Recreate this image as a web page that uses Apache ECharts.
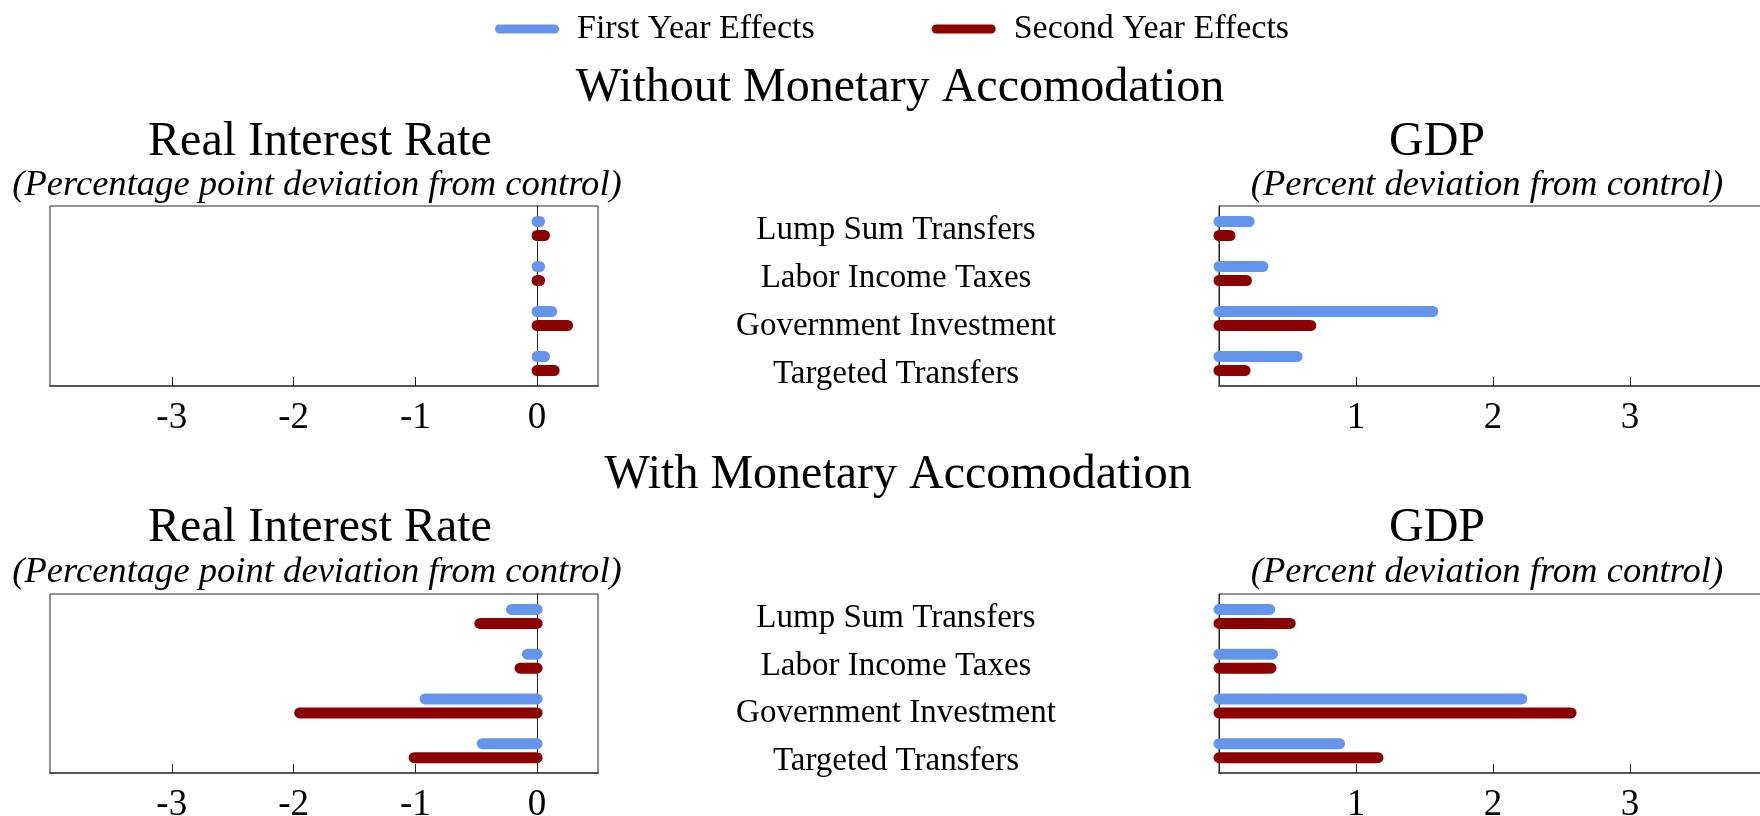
<!DOCTYPE html>
<html>
<head>
<meta charset="utf-8">
<script src="https://cdn.jsdelivr.net/npm/echarts@6/dist/echarts.min.js"></script>
<style>
  html, body { margin: 0; padding: 0; background: #fff; }
  #main { width: 1760px; height: 816px; }
</style>
</head>
<body>
<div id="main"></div>
<script>
// categories, top to bottom
var categories = ['Lump Sum Transfers', 'Labor Income Taxes', 'Government Investment', 'Targeted Transfers'];
var seriesNames = ['First Year Effects', 'Second Year Effects'];

// without monetary accomodation
var rirWithoutFirst = [0.02, 0.02, 0.12, 0.06];
var rirWithoutSecond = [0.06, 0.02, 0.25, 0.14];
var gdpWithoutFirst = [0.22, 0.32, 1.56, 0.57];
var gdpWithoutSecond = [0.08, 0.20, 0.67, 0.19];

// with monetary accomodation
var rirWithFirst = [-0.21, -0.08, -0.92, -0.45];
var rirWithSecond = [-0.47, -0.14, -1.95, -1.01];
var gdpWithFirst = [0.37, 0.39, 2.21, 0.88];
var gdpWithSecond = [0.52, 0.38, 2.57, 1.16];

var rirTicks = ['-3', '-2', '-1', '0'];
var gdpTicks = ['1', '2', '3'];

var FONT = "'Liberation Serif', 'Times New Roman', serif";
var BLUE = '#6495ED';
var RED = '#8B0000';

var chart = echarts.init(document.getElementById('main'));

// thick line with round caps, from 0 to the value
function capBar(offset) {
  return function (params, api) {
    var a = api.coord([0, api.value(1)]);
    var b = api.coord([api.value(0), api.value(1)]);
    return {
      type: 'line',
      shape: { x1: a[0], y1: a[1] + offset, x2: b[0], y2: b[1] + offset },
      style: { stroke: api.visual('color'), lineWidth: 11, lineCap: 'round' }
    };
  };
}

function toData(vals) {
  return vals.map(function (v, i) { return [v, i]; });
}

// right panels run a bit past the page edge, like the original
function grid(left, top, height) {
  return {
    left: left, top: top, width: 548, height: height,
    show: true, borderColor: '#222', borderWidth: 1,
    outerBoundsMode: 'none'
  };
}
var grids = [grid(50, 206, 180), grid(1219, 206, 180), grid(50, 594, 179), grid(1219, 594, 179)];

function xAxis(gi, isRir) {
  var ticks = isRir ? rirTicks : gdpTicks;
  return {
    type: 'value',
    gridIndex: gi,
    min: isRir ? -4 : 0,
    max: isRir ? 0.5 : 4,
    interval: 1,
    splitLine: { show: false },
    axisLine: { show: true, onZero: false, lineStyle: { color: '#555', width: 2 } },
    axisTick: { show: true, inside: true, length: 9, lineStyle: { color: '#222', width: 1 } },
    axisLabel: {
      color: '#000', fontFamily: FONT, fontSize: 37, margin: 14,
      showMinLabel: false, showMaxLabel: false,
      formatter: function (v) {
        var s = String(v);
        return ticks.indexOf(s) >= 0 ? s : '';
      }
    }
  };
}

// the row names drift a little lower than the bars as they go down
var labelPad = [4, 10, 15, 21];
var labelRich = {};
labelPad.forEach(function (p, i) {
  labelRich['c' + i] = { color: '#000', fontFamily: FONT, fontSize: 33, padding: [p, 0, 0, 0] };
});

function yAxis(gi, showLabels) {
  return {
    type: 'category',
    gridIndex: gi,
    data: categories,
    inverse: true,
    axisLine: { show: true, lineStyle: { color: '#222', width: 1 } },
    axisTick: { show: false },
    splitLine: { show: false },
    axisLabel: {
      show: showLabels,
      interval: 0,
      hideOverlap: false,
      color: '#000', fontFamily: FONT, fontSize: 33,
      align: 'center', margin: 323,
      formatter: function (value, index) { return '{c' + index + '|' + value + '}'; },
      rich: labelRich
    }
  };
}

function pair(gi, first, second) {
  return [
    { name: seriesNames[0], type: 'custom', xAxisIndex: gi, yAxisIndex: gi,
      itemStyle: { color: BLUE }, renderItem: capBar(-7), data: toData(first) },
    { name: seriesNames[1], type: 'custom', xAxisIndex: gi, yAxisIndex: gi,
      itemStyle: { color: RED }, renderItem: capBar(7), data: toData(second) }
  ];
}

function label(text, x, y, size, italic) {
  return {
    type: 'text', x: x, y: y,
    style: {
      text: text, fill: '#000', font: (italic ? 'italic ' : '') + size + 'px ' + FONT,
      align: 'center', verticalAlign: 'middle'
    }
  };
}

var option = {
  animation: false,
  backgroundColor: '#fff',
  legend: {
    data: seriesNames,
    left: 490, top: 7,
    itemWidth: 64, itemHeight: 9, itemGap: 117,
    icon: 'path://M4.5,0 H59.5 A4.5,4.5 0 0 1 59.5,9 H4.5 A4.5,4.5 0 0 1 4.5,0 Z',
    formatter: function (name) { return '{t|' + name + '}'; },
    textStyle: {
      color: '#000', fontFamily: FONT, fontSize: 34,
      rich: { t: { color: '#000', fontFamily: FONT, fontSize: 34, padding: [0, 0, 0, 13] } }
    }
  },
  grid: grids,
  xAxis: [xAxis(0, true), xAxis(1, false), xAxis(2, true), xAxis(3, false)],
  yAxis: [yAxis(0, false), yAxis(1, true), yAxis(2, false), yAxis(3, true)],
  series: [].concat(
    pair(0, rirWithoutFirst, rirWithoutSecond),
    pair(1, gdpWithoutFirst, gdpWithoutSecond),
    pair(2, rirWithFirst, rirWithSecond),
    pair(3, gdpWithFirst, gdpWithSecond)
  ),
  graphic: [
    label('Without Monetary Accomodation', 900, 88, 48),
    label('Real Interest Rate', 320, 142, 48),
    label('(Percentage point deviation from control)', 317, 185, 36.6, true),
    label('GDP', 1437, 142, 48),
    label('(Percent deviation from control)', 1487, 185, 36.6, true),
    label('With Monetary Accomodation', 898, 475, 48),
    label('Real Interest Rate', 320, 528, 48),
    label('(Percentage point deviation from control)', 317, 572, 36.6, true),
    label('GDP', 1437, 528, 48),
    label('(Percent deviation from control)', 1487, 572, 36.6, true)
  ]
};

chart.setOption(option);
</script>
</body>
</html>
